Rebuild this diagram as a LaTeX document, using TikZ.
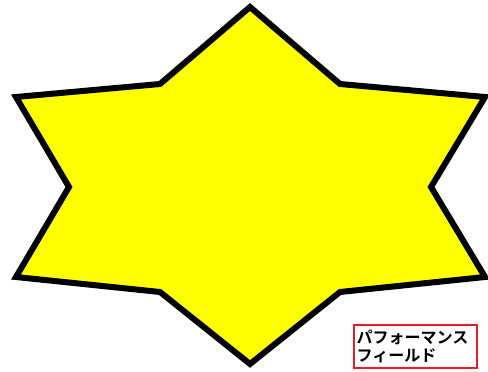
\documentclass[tikz,border=0pt]{standalone}
\usepackage{fontspec}
\newfontfamily\jpfont{Noto Sans CJK JP}[BoldFont={* Bold}]
\definecolor{staryellow}{RGB}{255,255,0}
\definecolor{boxred}{RGB}{237,28,36}
\begin{document}
\begin{tikzpicture}[x=1pt,y=-1pt,
  starline/.style={draw=black,fill=staryellow,line width=6pt,line join=miter},
  labelbox/.style={draw=boxred,line width=1.8pt,inner sep=0pt,minimum width=123pt,minimum height=43pt,anchor=north west},
  labeltext/.style={font=\jpfont\bfseries\fontsize{16}{18}\selectfont,align=left,inner sep=0pt,anchor=west}]
\useasboundingbox (0,0) rectangle (488,372);
\filldraw[starline] (250,7) -- (340,84) -- (485,97) -- (431,187) -- (485,277) -- (340,292)
  -- (250,364) -- (160,292) -- (16,277) -- (69,187) -- (16,97) -- (160,84) -- cycle;
\node[labelbox] (box) at (353,324) {};
\node[labeltext] (lbl) at ([xshift=3.5pt]box.west) {パフォーマンス\\フィールド};
\end{tikzpicture}
\end{document}
